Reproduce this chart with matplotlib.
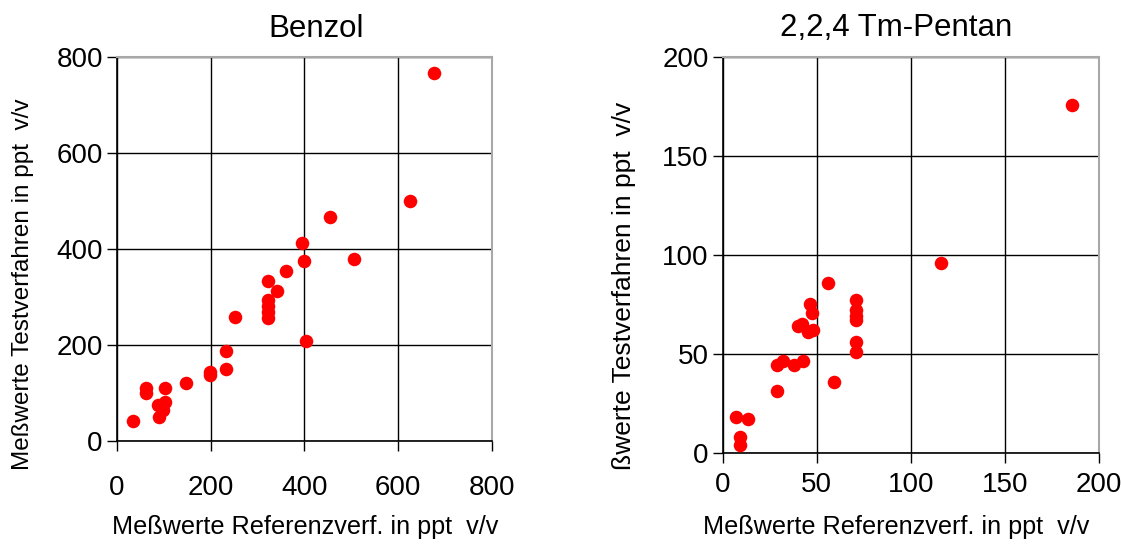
import matplotlib
matplotlib.use("Agg")
import matplotlib.pyplot as plt

plt.rcParams['font.family'] = ['Liberation Sans', 'DejaVu Sans']

# Benzol: reference method vs. test method (ppt v/v)
benzol_ref = [676, 625, 454, 394, 399, 505, 360, 322, 342, 322, 322, 322, 322,
              253, 403, 232, 232, 199, 199, 148, 62, 62, 104, 104, 87, 99, 91, 35]
benzol_test = [767, 500, 467, 413, 376, 379, 354, 334, 313, 293, 281, 268, 256,
               259, 209, 187, 150, 144, 137, 121, 109, 100, 109, 81, 75, 64, 50, 42]

# 2,2,4-Trimethylpentan
tmp_ref = [186, 116, 56, 71, 71, 71, 71, 71, 71, 46.5, 47.5, 40, 42, 45.5, 48,
           32, 29, 38, 42.5, 59, 29, 7, 13.5, 9, 9]
tmp_test = [176, 96, 86, 77, 72, 69, 67, 56, 51, 75, 70.5, 64, 65, 61, 62,
            46.5, 44.5, 44.5, 46.5, 36, 31, 18, 17, 8, 4]

W, H = 1121, 545
fig = plt.figure(figsize=(W / 100, H / 100), dpi=100)


def px_axes(x0, y0, x1, y1):
    return fig.add_axes([x0 / W, 1 - y1 / H, (x1 - x0) / W, (y1 - y0) / H])


def style(ax, lim, step, xpad):
    ax.set_xlim(0, lim)
    ax.set_ylim(0, lim)
    ticks = list(range(0, lim + 1, step))
    ax.set_xticks(ticks)
    ax.set_yticks(ticks)
    ax.grid(True, color='black', linewidth=1)
    ax.set_axisbelow(True)
    for side in ('top', 'right'):
        ax.spines[side].set_color('#a8a8a8')
        ax.spines[side].set_linewidth(1.5)
    for side in ('left', 'bottom'):
        ax.spines[side].set_color('black')
        ax.spines[side].set_linewidth(1.2)
    ax.tick_params(axis='both', direction='out', length=7, width=1,
                   labelsize=20, colors='black')
    ax.tick_params(axis='x', pad=xpad)
    ax.tick_params(axis='y', pad=3)


ax1 = px_axes(116.7, 57.3, 492, 440.7)
ax1.scatter(benzol_ref, benzol_test, s=95, color='#ff0000', linewidths=0,
            zorder=3, clip_on=False)
style(ax1, 800, 200, 18)

ax2 = px_axes(722.7, 57.3, 1098.7, 452.7)
ax2.scatter(tmp_ref, tmp_test, s=95, color='#ff0000', linewidths=0,
            zorder=3, clip_on=False)
style(ax2, 200, 50, 7)

fig.text(316, H - 37, 'Benzol', fontsize=22.5, ha='center', va='baseline',
         transform=None)
fig.text(896, H - 36, '2,2,4 Tm-Pentan', fontsize=22.5, ha='center',
         va='baseline', transform=None)

fig.text(305, H - 534, 'Meßwerte Referenzverf. in ppt  v/v', fontsize=18.2,
         ha='center', va='baseline', transform=None)
fig.text(896, H - 534, 'Meßwerte Referenzverf. in ppt  v/v', fontsize=18.2,
         ha='center', va='baseline', transform=None)

fig.text(23, H - 470, 'Meßwerte Testverfahren in ppt  v/v', fontsize=17.5,
         rotation=90, ha='center', va='bottom', transform=None)
fig.text(624, H - 470, 'ßwerte Testverfahren in ppt  v/v', fontsize=19,
         rotation=90, ha='center', va='bottom', transform=None)

fig.savefig('out.png', dpi=100, facecolor='white')
